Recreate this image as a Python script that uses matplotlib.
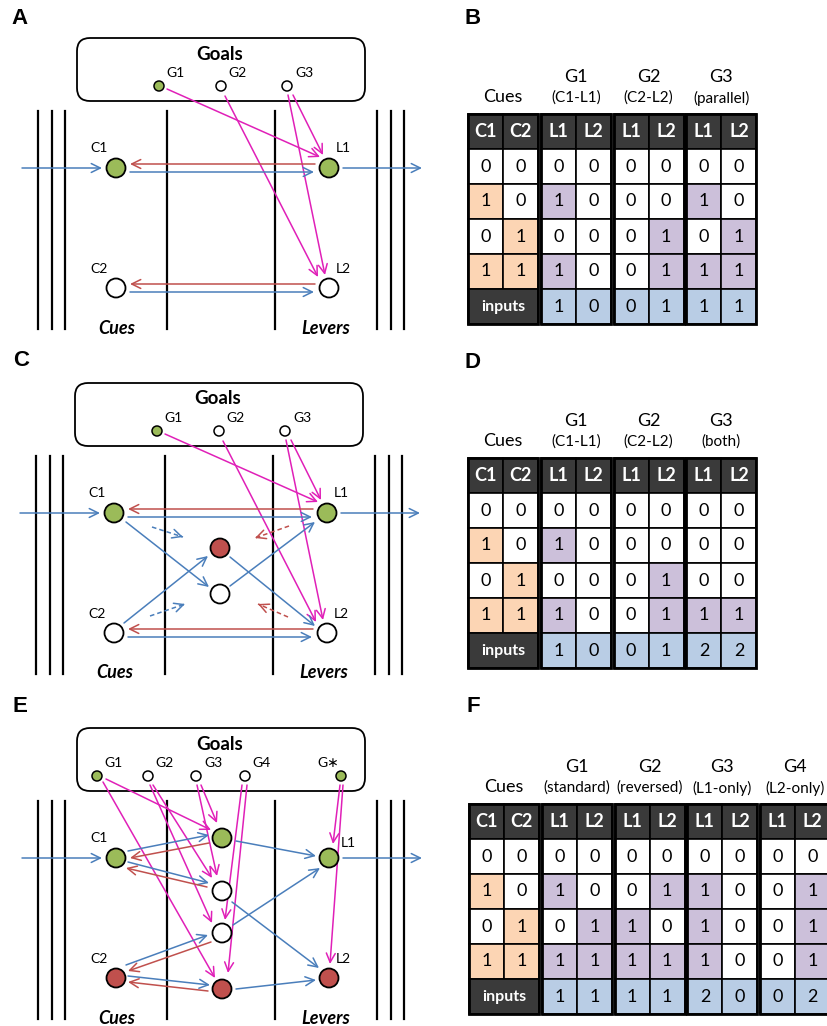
import numpy as np
import matplotlib.pyplot as plt
from matplotlib.patches import Circle, Rectangle, FancyBboxPatch

plt.rcParams['font.family'] = ['Lato', 'DejaVu Sans']

BLUE = '#4a7ebb'
RED = '#c0504d'
PINK = '#e020b8'
GREEN = '#9bbb59'
DARK = '#3a3a3a'
ORANGE = '#fcd5b4'
PURPLE = '#ccc0da'
LIGHTBLUE = '#b9cde5'
FILL = {'on': GREEN, 'off': 'white', 'neg': RED}

# ---- truth tables ----
cue_rows = [[0, 0], [1, 0], [0, 1], [1, 1]]

b_goals = ['G1', 'G2', 'G3']
b_notes = ['(C1-L1)', '(C2-L2)', '(parallel)']
b_levers = [
    [[0, 0], [1, 0], [0, 0], [1, 0]],
    [[0, 0], [0, 0], [0, 1], [0, 1]],
    [[0, 0], [1, 0], [0, 1], [1, 1]],
]
b_inputs = [[1, 0], [0, 1], [1, 1]]

d_goals = ['G1', 'G2', 'G3']
d_notes = ['(C1-L1)', '(C2-L2)', '(both)']
d_levers = [
    [[0, 0], [1, 0], [0, 0], [1, 0]],
    [[0, 0], [0, 0], [0, 1], [0, 1]],
    [[0, 0], [0, 0], [0, 0], [1, 1]],
]
d_inputs = [[1, 0], [0, 1], [2, 2]]

f_goals = ['G1', 'G2', 'G3', 'G4']
f_notes = ['(standard)', '(reversed)', '(L1-only)', '(L2-only)']
f_levers = [
    [[0, 0], [1, 0], [0, 1], [1, 1]],
    [[0, 0], [0, 1], [1, 0], [1, 1]],
    [[0, 0], [1, 0], [1, 0], [1, 0]],
    [[0, 0], [0, 1], [0, 1], [0, 1]],
]
f_inputs = [[1, 1], [1, 1], [2, 0], [0, 2]]

# ---- network states ----
ac_goals = ['G1', 'G2', 'G3']
ac_goal_state = ['on', 'off', 'off']
ac_units = {'C1': 'on', 'C2': 'off', 'L1': 'on', 'L2': 'off'}
c_hidden = {'M1': 'neg', 'M2': 'off'}

e_goals = ['G1', 'G2', 'G3', 'G4', 'G\u2217']
e_goal_state = ['on', 'off', 'off', 'off', 'on']
e_units = {'C1': 'on', 'C2': 'neg', 'L1': 'on', 'L2': 'neg'}
e_hidden = {'M1': 'on', 'M2': 'off', 'M3': 'off', 'M4': 'neg'}

# layout, relative to the top-left corner of the goals box
UNIT_POS = {'C1': (39, 130), 'C2': (39, 250), 'L1': (252, 130), 'L2': (252, 250)}
GOAL_X3 = [82, 144, 210]
GOAL_X5 = [20, 71, 119, 168, 264]
C_MID = {'M1': (145, 165), 'M2': (145, 211)}
E_MID = {'M1': (145, 110), 'M2': (145, 163), 'M3': (145, 205), 'M4': (145, 261)}

# edges: (from, to, start offset, end offset, colour)
ac_edges = [
    ('G1', 'L1', (8, 3), (-9, -11), PINK),
    ('G2', 'L2', (4, 10), (-11, -11), PINK),
    ('G3', 'L1', (6, 9), (-6, -13), PINK),
    ('G3', 'L2', (1, 9), (-4, -13), PINK),
    ('L1', 'C1', (-14, -4), (14, -4), RED),
    ('C1', 'L1', (14, 4), (-15, 4), BLUE),
    ('L2', 'C2', (-14, -4), (14, -4), RED),
    ('C2', 'L2', (14, 4), (-15, 4), BLUE),
]
c_extra = [
    ('C1', 'M2', (12, 9), (-11, -7), BLUE),
    ('C2', 'M1', (10, -10), (-12, 8), BLUE),
    ('M1', 'L2', (10, 9), (-12, -7), BLUE),
    ('M2', 'L1', (10, -8), (-12, 9), BLUE),
]
c_dashed = [
    ('M1', (-68, -21), (-37, -11), BLUE),
    ('M2', (-70, 22), (-35, 10), BLUE),
    ('M1', (69, -22), (35, -10), RED),
    ('M2', (68, 23), (38, 10), RED),
]
e_edges = [
    ('G1', 'M1', (9, 3), (-11, -8), PINK),
    ('G1', 'M4', (6, 6), (-7, -11), PINK),
    ('G2', 'M2', (5, 9), (-10, -13), PINK),
    ('G2', 'M3', (2, 9), (-10, -10), PINK),
    ('G3', 'M1', (5, 9), (-5, -15), PINK),
    ('G3', 'M2', (1, 9), (-5, -15), PINK),
    ('G4', 'M3', (-3, 9), (3, -13), PINK),
    ('G4', 'M4', (2, 9), (6, -16), PINK),
    ('G\u2217', 'L1', (-1, 9), (4, -14), PINK),
    ('G\u2217', 'L2', (2, 9), (1, -14), PINK),
    ('C1', 'M1', (12, -7), (-13, -3), BLUE),
    ('M1', 'C1', (-13, 5), (14, 0), RED),
    ('C1', 'M2', (12, 4), (-13, -8), BLUE),
    ('M2', 'C1', (-15, -4), (10, 10), RED),
    ('M1', 'L1', (14, 3), (-13, -2), BLUE),
    ('M2', 'L2', (10, 11), (-10, -10), BLUE),
    ('M3', 'L1', (11, -8), (-9, 10), BLUE),
    ('C2', 'M3', (10, -13), (-14, 2), BLUE),
    ('M3', 'C2', (-11, 9), (12, -7), RED),
    ('C2', 'M4', (12, -2), (-12, -4), BLUE),
    ('M4', 'C2', (-14, 2), (12, 4), RED),
    ('M4', 'L2', (14, 0), (-13, 2), BLUE),
]


def arrow(ax, p, q, color, lw=1.1):
    ax.annotate('', xy=q, xytext=p, zorder=3,
                arrowprops=dict(arrowstyle='->,head_length=0.65,head_width=0.32',
                                color=color, lw=lw, shrinkA=0, shrinkB=0))


def dashed_arrow(ax, p, q, color):
    ax.plot([p[0], q[0]], [p[1], q[1]], color=color, lw=1.1, ls=(0, (3, 2)), zorder=3)
    d = np.subtract(q, p)
    d = d / np.hypot(*d)
    arrow(ax, tuple(np.subtract(q, 2 * d)), q, color)


def draw_network(ax, ox, oy, goals, goal_x, goal_state, units, mids, edges,
                 dashed=(), label_shift=None):
    def at(x, y):
        return (ox + x, oy + y)

    # goals box
    ax.add_patch(FancyBboxPatch(at(0, 0), 288, 63, boxstyle='round,pad=0,rounding_size=13',
                                fc='white', ec='black', lw=1.3, zorder=2))
    ax.text(*at(143, 16), 'Goals', ha='center', va='center', fontsize=13.5,
            fontweight='bold')

    # layer boundaries
    for x in [-39, -25, -12, 90, 198, 300, 314, 327]:
        ax.plot([ox + x, ox + x], [oy + 73, oy + 291], color='black', lw=1.6, zorder=1)

    pos = {}
    for name, gx, st in zip(goals, goal_x, goal_state):
        pos[name] = at(gx, 48)
        ax.add_patch(Circle(pos[name], 5, fc=FILL[st], ec='black', lw=1.1, zorder=5))
        dx = -13 if name.endswith('\u2217') else 17
        ax.text(*at(gx + dx, 35), name, ha='center', va='center', fontsize=10)
    for name in units:
        pos[name] = at(*UNIT_POS[name])
    for name in mids:
        pos[name] = at(*mids[name][0])
    for name, p in pos.items():
        if name in units:
            st = units[name]
        elif name in mids:
            st = mids[name][1]
        else:
            continue
        ax.add_patch(Circle(p, 9.5, fc=FILL[st], ec='black', lw=1.3, zorder=5))

    shifts = {'C1': (-17, -20), 'C2': (-17, -19), 'L1': (14, -20), 'L2': (14, -19)}
    if label_shift:
        shifts.update(label_shift)
    for name in units:
        x, y = pos[name]
        ax.text(x + shifts[name][0], y + shifts[name][1], name, ha='center',
                va='center', fontsize=10)

    ax.text(*at(40, 290), 'Cues', ha='center', va='center', fontsize=13,
            fontweight='bold', fontstyle='italic')
    ax.text(*at(249, 290), 'Levers', ha='center', va='center', fontsize=13,
            fontweight='bold', fontstyle='italic')

    # sensory input and motor output
    arrow(ax, at(-55, 130), at(25, 130), BLUE)
    arrow(ax, at(266, 130), at(345, 130), BLUE)

    for a, b, sa, sb, col in edges:
        p = (pos[a][0] + sa[0], pos[a][1] + sa[1])
        q = (pos[b][0] + sb[0], pos[b][1] + sb[1])
        arrow(ax, p, q, col)
    for m, sa, sb, col in dashed:
        p = (pos[m][0] + sa[0], pos[m][1] + sa[1])
        q = (pos[m][0] + sb[0], pos[m][1] + sb[1])
        dashed_arrow(ax, p, q, col)


def draw_block(ax, bx, top, heads, rows, on_colour, bottom, cw=35, ch=35):
    for j, h in enumerate(heads):
        ax.add_patch(Rectangle((bx + j * cw, top), cw, ch, fc=DARK, ec='black', lw=1.2))
        ax.text(bx + j * cw + cw / 2, top + ch / 2, h, ha='center', va='center',
                fontsize=13, fontweight='bold', color='white')
    for i, row in enumerate(rows):
        y = top + (i + 1) * ch
        for j, v in enumerate(row):
            ax.add_patch(Rectangle((bx + j * cw, y), cw, ch,
                                   fc=on_colour if v == 1 else 'white', ec='black', lw=1.2))
            ax.text(bx + j * cw + cw / 2, y + ch / 2, str(v), ha='center', va='center',
                    fontsize=13)
    y = top + 5 * ch
    if bottom is None:
        ax.add_patch(Rectangle((bx, y), 2 * cw, ch, fc=DARK, ec='black', lw=1.2))
        ax.text(bx + cw, y + ch / 2, 'inputs', ha='center', va='center', fontsize=11.5,
                fontweight='bold', color='white')
    else:
        for j, v in enumerate(bottom):
            ax.add_patch(Rectangle((bx + j * cw, y), cw, ch, fc=LIGHTBLUE, ec='black', lw=1.2))
            ax.text(bx + j * cw + cw / 2, y + ch / 2, str(v), ha='center', va='center',
                    fontsize=13)
    ax.add_patch(Rectangle((bx, top), 2 * cw, 6 * ch, fc='none', ec='black', lw=2.0, zorder=4))


def draw_table(ax, x0, top, goals, notes, levers, inputs, pitch=72.8):
    ax.text(x0 + 35, top - 17, 'Cues', ha='center', va='center', fontsize=13)
    draw_block(ax, x0, top, ['C1', 'C2'], cue_rows, ORANGE, None)
    for k, (g, note, rows, inp) in enumerate(zip(goals, notes, levers, inputs)):
        bx = x0 + (k + 1) * pitch
        ax.text(bx + 35, top - 37, g, ha='center', va='center', fontsize=13)
        ax.text(bx + 35, top - 16, note, ha='center', va='center', fontsize=11)
        draw_block(ax, bx, top, ['L1', 'L2'], rows, PURPLE, inp)


fig = plt.figure(figsize=(8.28, 10.26), dpi=100)
ax = fig.add_axes([0, 0, 1, 1])
ax.set_xlim(0, 828)
ax.set_ylim(1026, 0)
ax.axis('off')

# A: separate pathways
draw_network(ax, 77, 38, ac_goals, GOAL_X3, ac_goal_state, ac_units, {}, ac_edges)
# C: with a hidden layer
c_mid = {k: (C_MID[k], v) for k, v in c_hidden.items()}
draw_network(ax, 75, 383, ac_goals, GOAL_X3, ac_goal_state, ac_units, c_mid,
             ac_edges + c_extra, dashed=c_dashed)
# E: goal-gated hidden units
e_mid = {k: (E_MID[k], v) for k, v in e_hidden.items()}
draw_network(ax, 77, 728, e_goals, GOAL_X5, e_goal_state, e_units, e_mid, e_edges,
             label_shift={'L1': (19, -15), 'L2': (14, -19)})

draw_table(ax, 468, 114, b_goals, b_notes, b_levers, b_inputs)
draw_table(ax, 468, 458, d_goals, d_notes, d_levers, d_inputs)
draw_table(ax, 469, 804, f_goals, f_notes, f_levers, f_inputs)

for letter, x, y in [('A', 20, 18), ('B', 473, 18), ('C', 21, 361), ('D', 473, 362),
                     ('E', 20, 707), ('F', 473, 707)]:
    ax.text(x, y, letter, ha='center', va='center', fontsize=16, fontweight='bold',
            family='Liberation Sans')

fig.savefig('out.png', dpi=100)
